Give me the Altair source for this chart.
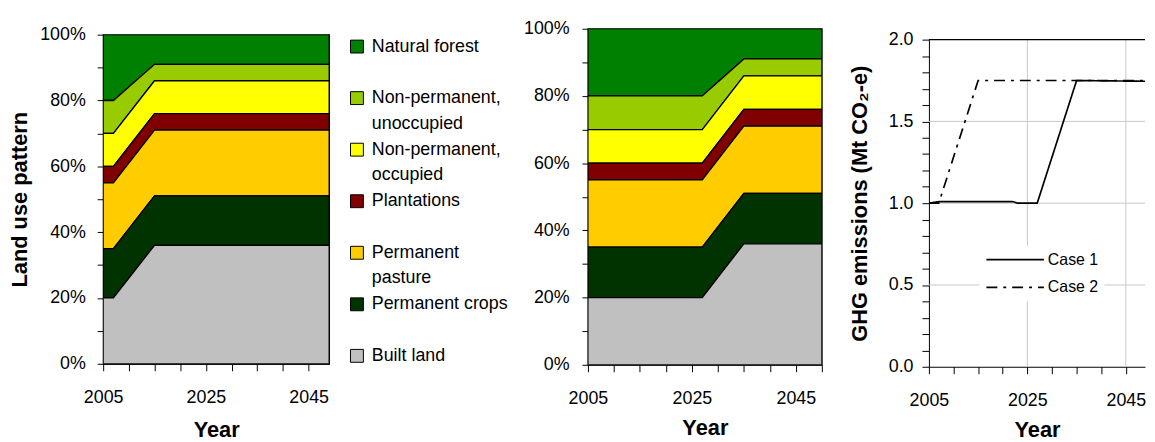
import altair as alt
import pandas as pd

# ---------------- data ----------------
legend_labels = ["Natural forest", "Non-permanent,|unoccupied", "Non-permanent,|occupied",
                 "Plantations", "Permanent|pasture", "Permanent crops", "Built land"]
colors = ["#008000", "#99CC00", "#FFFF00", "#800000", "#FFCC00", "#003300", "#C0C0C0"]

years_case1 = [2005, 2007, 2015, 2049]   # left panel breakpoints
years_case2 = [2005, 2027, 2035, 2050]   # middle panel breakpoints

# land-use shares (fraction of total) at each breakpoint
natural_forest = [0.20, 0.20, 0.09, 0.09]
nonperm_unocc = [0.10, 0.10, 0.05, 0.05]
nonperm_occ = [0.10, 0.10, 0.10, 0.10]
plantations = [0.05, 0.05, 0.05, 0.05]
perm_pasture = [0.20, 0.20, 0.20, 0.20]
perm_crops = [0.15, 0.15, 0.15, 0.15]
built_land = [0.20, 0.20, 0.36, 0.36]
series = [natural_forest, nonperm_unocc, nonperm_occ, plantations, perm_pasture, perm_crops, built_land]

ghg_case1_years = [2005, 2007, 2022, 2023, 2027, 2035, 2050]
ghg_case1 = [1.0, 1.01, 1.01, 1.0, 1.0, 1.75, 1.745]
ghg_case2_years = [2005, 2007, 2015, 2050]
ghg_case2 = [1.0, 1.0, 1.75, 1.75]
case_names = ["Case 1", "Case 2"]

pct_ticks = [0, 0.1, 0.2, 0.3, 0.4, 0.5, 0.6, 0.7, 0.8, 0.9, 1.0]
year_ticks = [2005, 2010, 2015, 2020, 2025, 2030, 2035, 2040, 2045]
year_ticks_full = [2005, 2010, 2015, 2020, 2025, 2030, 2035, 2040, 2045, 2050]
ghg_ticks = [round(i * 0.1, 1) for i in range(21)]
grid_y = [0.5, 1.0, 1.5]
grid_x = [2025, 2045]
top_y = [2.0]

FONT = "Liberation Sans"
NOSTROKE = alt.ViewBackground(stroke="transparent")


def land_table(years):
    rows = []
    for k, (lab, vals) in enumerate(zip(legend_labels, series)):
        for yr, v in zip(years, vals):
            rows.append({"year": yr, "share": v, "cat": lab, "order": len(legend_labels) - k})
    return pd.DataFrame(rows)


def area_panel(years, xmax, ticks, width, height, legend, label_pad, title_pad):
    return alt.Chart(land_table(years)).mark_area(
        stroke="black", strokeWidth=1.3, clip=True
    ).encode(
        x=alt.X("year:Q", scale=alt.Scale(domain=[2005, xmax], nice=False, zero=False),
                axis=alt.Axis(title="Year", values=ticks, format="d",
                              labelExpr="(datum.value - 2005) % 20 == 0 ? datum.label : ''",
                              tickSize=7, labelPadding=18, titlePadding=title_pad)),
        y=alt.Y("share:Q", stack="zero", scale=alt.Scale(domain=[0, 1], nice=False),
                axis=alt.Axis(title="Land use pattern" if legend else None, values=pct_ticks,
                              labelExpr="round(datum.value * 10) % 2 == 0 ? format(datum.value, '.0%') : ''",
                              tickSize=6, labelPadding=label_pad, titlePadding=8)),
        color=alt.Color("cat:N", scale=alt.Scale(domain=legend_labels, range=colors),
                        legend=alt.Legend(title=None, orient="right", offset=15.5, padding=3,
                                          symbolType="square", symbolSize=169,
                                          symbolStrokeColor="black", symbolStrokeWidth=1,
                                          labelFont=FONT, labelFontSize=18, labelColor="black",
                                          labelExpr="split(datum.label, '|')", gridAlign="all",
                                          rowPadding=8, labelOffset=6, labelLimit=300)
                        if legend else None),
        order=alt.Order("order:Q", sort="ascending"),
    ).properties(width=width, height=height)


def spacer(h):
    return alt.Chart(pd.DataFrame({"v": [0]})).mark_rule(opacity=0).encode(
        y=alt.value(0)).properties(width=10, height=h, view=NOSTROKE)


p1 = area_panel(years_case1, 2049, year_ticks, 228, 332, True, 12, 13)
p2 = area_panel(years_case2, 2050, year_ticks_full, 236, 339, False, 13, 10)
p1v = alt.vconcat(spacer(7), p1, spacing=0).resolve_legend(color="independent")
p2v = alt.vconcat(spacer(1), p2, spacing=0)

# ---------------- GHG panel ----------------
ghg_rows = []
for name, yrs, vals in [("Case 1", ghg_case1_years, ghg_case1), ("Case 2", ghg_case2_years, ghg_case2)]:
    for yr, v in zip(yrs, vals):
        ghg_rows.append({"year": yr, "value": v, "case": name})
ghg_df = pd.DataFrame(ghg_rows)

xs = alt.Scale(domain=[2005, 2048.9], nice=False, zero=False)
ys = alt.Scale(domain=[0, 2], nice=False)
x_ax = alt.Axis(title="Year", values=year_ticks, format="d",
                labelExpr="(datum.value - 2005) % 20 == 0 ? datum.label : ''",
                tickSize=7, labelPadding=18, titlePadding=10)
y_ax = alt.Axis(title="GHG emissions (Mt CO₂-e)", values=ghg_ticks,
                labelExpr="round(datum.value * 10) % 5 == 0 ? format(datum.value, '.1f') : ''",
                tickSize=7, labelPadding=9, titlePadding=17)

grid_h = alt.Chart(pd.DataFrame({"value": grid_y})).mark_rule(color="#C8C8C8", strokeWidth=1).encode(
    y=alt.Y("value:Q", scale=ys, axis=y_ax))
grid_v = alt.Chart(pd.DataFrame({"year": grid_x})).mark_rule(color="#C8C8C8", strokeWidth=1).encode(
    x=alt.X("year:Q", scale=xs, axis=x_ax))
top_line = alt.Chart(pd.DataFrame({"value": top_y})).mark_rule(color="black", strokeWidth=1.3).encode(
    y=alt.Y("value:Q", scale=ys, axis=y_ax))
lines = alt.Chart(ghg_df).mark_line(color="black", strokeWidth=1.7, clip=True).encode(
    x=alt.X("year:Q", scale=xs, axis=x_ax),
    y=alt.Y("value:Q", scale=ys, axis=y_ax),
    strokeDash=alt.StrokeDash("case:N", scale=alt.Scale(domain=case_names, range=[[1, 0], [11, 6, 3, 6]]),
                              legend=alt.Legend(title=None, orient="none", legendX=51, legendY=208,
                                                symbolType="stroke", symbolSize=3364, clipHeight=16,
                                                symbolStrokeColor="black", symbolStrokeWidth=1.7,
                                                labelFont=FONT, labelFontSize=16, labelColor="black",
                                                fillColor="white", padding=6, rowPadding=12,
                                                labelOffset=3)),
)
p3 = alt.layer(grid_h, grid_v, top_line, lines).properties(width=218, height=330, view=NOSTROKE)
p3v = alt.vconcat(spacer(12), p3, spacing=0).resolve_legend(strokeDash="independent")

inner = alt.hconcat(p1v, p2v, spacing=10).resolve_legend(
    color="independent").resolve_scale(color="independent")
chart = alt.hconcat(inner, p3v, spacing=24).resolve_legend(
    color="independent", strokeDash="independent"
).resolve_scale(color="independent", strokeDash="independent").properties(
    padding={"left": 0, "top": 6, "right": 0, "bottom": 0}
).configure(style={"guide-label": {"lineHeight": 26}}).configure_view(
    stroke="black", strokeWidth=1.3
).configure_axis(
    labelFont=FONT, labelFontSize=18, labelColor="black", labelFlush=False, labelOverlap=False,
    titleFont=FONT, titleFontSize=22, titleFontWeight="bold", titleColor="black",
    tickColor="black", domainColor="black", grid=False
)

chart.save("out.html", embed_options={"renderer": "svg", "actions": False})
